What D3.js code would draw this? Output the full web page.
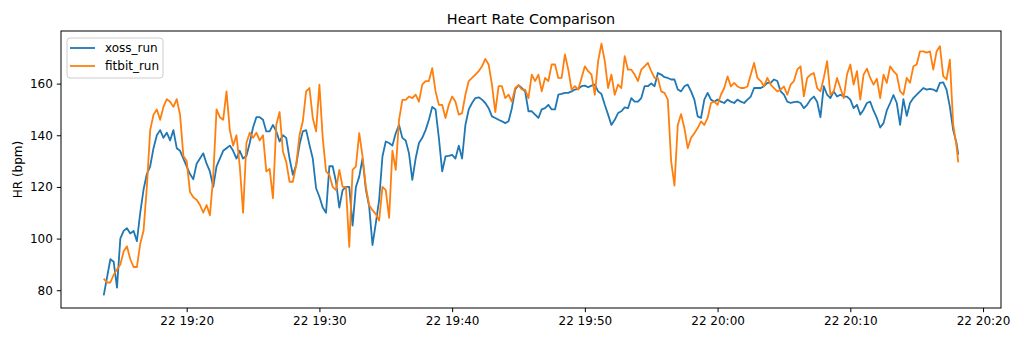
<!DOCTYPE html>
<html lang="en">
<head>
<meta charset="UTF-8">
<title>Heart Rate Comparison</title>
<script src="https://d3js.org/d3.v7.min.js"></script>
<style>
  body { margin: 0; background: #fff; }
  text { font-family: "DejaVu Sans", sans-serif; fill: #000; }
</style>
</head>
<body>
<div id="chart"></div>

<script>
// Recording day and sample times (one row per minute)
const day = "2021-08-22";
const times = [
  "19:13:45",
  "19:14:00","19:14:15","19:14:30","19:14:45",
  "19:15:00","19:15:15","19:15:30","19:15:45",
  "19:16:00","19:16:15","19:16:30","19:16:45",
  "19:17:00","19:17:15","19:17:30","19:17:45",
  "19:18:00","19:18:15","19:18:30","19:18:45",
  "19:19:00","19:19:15","19:19:30","19:19:45",
  "19:20:00","19:20:15","19:20:30","19:20:45",
  "19:21:00","19:21:15","19:21:30","19:21:45",
  "19:22:00","19:22:15","19:22:30","19:22:45",
  "19:23:00","19:23:15","19:23:30","19:23:45",
  "19:24:00","19:24:15","19:24:30","19:24:45",
  "19:25:00","19:25:15","19:25:30","19:25:45",
  "19:26:00","19:26:15","19:26:30","19:26:45",
  "19:27:00","19:27:15","19:27:30","19:27:45",
  "19:28:00","19:28:15","19:28:30","19:28:45",
  "19:29:00","19:29:15","19:29:30","19:29:45",
  "19:30:00","19:30:15","19:30:30","19:30:45",
  "19:31:00","19:31:15","19:31:30","19:31:45",
  "19:32:00","19:32:15","19:32:30","19:32:45",
  "19:33:00","19:33:15","19:33:30","19:33:45",
  "19:34:00","19:34:15","19:34:30","19:34:45",
  "19:35:00","19:35:15","19:35:30","19:35:45",
  "19:36:00","19:36:15","19:36:30","19:36:45",
  "19:37:00","19:37:15","19:37:30","19:37:45",
  "19:38:00","19:38:15","19:38:30","19:38:45",
  "19:39:00","19:39:15","19:39:30","19:39:45",
  "19:40:00","19:40:15","19:40:30","19:40:45",
  "19:41:00","19:41:15","19:41:30","19:41:45",
  "19:42:00","19:42:15","19:42:30","19:42:45",
  "19:43:00","19:43:15","19:43:30","19:43:45",
  "19:44:00","19:44:15","19:44:30","19:44:45",
  "19:45:00","19:45:15","19:45:30","19:45:45",
  "19:46:00","19:46:15","19:46:30","19:46:45",
  "19:47:00","19:47:15","19:47:30","19:47:45",
  "19:48:00","19:48:15","19:48:30","19:48:45",
  "19:49:00","19:49:15","19:49:30","19:49:45",
  "19:50:00","19:50:15","19:50:30","19:50:45",
  "19:51:00","19:51:15","19:51:30","19:51:45",
  "19:52:00","19:52:15","19:52:30","19:52:45",
  "19:53:00","19:53:15","19:53:30","19:53:45",
  "19:54:00","19:54:15","19:54:30","19:54:45",
  "19:55:00","19:55:15","19:55:30","19:55:45",
  "19:56:00","19:56:15","19:56:30","19:56:45",
  "19:57:00","19:57:15","19:57:30","19:57:45",
  "19:58:00","19:58:15","19:58:30","19:58:45",
  "19:59:00","19:59:15","19:59:30","19:59:45",
  "20:00:00","20:00:15","20:00:30","20:00:45",
  "20:01:00","20:01:15","20:01:30","20:01:45",
  "20:02:00","20:02:15","20:02:30","20:02:45",
  "20:03:00","20:03:15","20:03:30","20:03:45",
  "20:04:00","20:04:15","20:04:30","20:04:45",
  "20:05:00","20:05:15","20:05:30","20:05:45",
  "20:06:00","20:06:15","20:06:30","20:06:45",
  "20:07:00","20:07:15","20:07:30","20:07:45",
  "20:08:00","20:08:15","20:08:30","20:08:45",
  "20:09:00","20:09:15","20:09:30","20:09:45",
  "20:10:00","20:10:15","20:10:30","20:10:45",
  "20:11:00","20:11:15","20:11:30","20:11:45",
  "20:12:00","20:12:15","20:12:30","20:12:45",
  "20:13:00","20:13:15","20:13:30","20:13:45",
  "20:14:00","20:14:15","20:14:30","20:14:45",
  "20:15:00","20:15:15","20:15:30","20:15:45",
  "20:16:00","20:16:15","20:16:30","20:16:45",
  "20:17:00","20:17:15","20:17:30","20:17:45",
  "20:18:00","20:18:08"
];

// xoss_run heart rate (bpm)
const xoss = [
  78,
  85, 92, 91, 81,
  100, 103, 104, 102,
  103, 99, 110, 119,
  125, 128, 135, 140,
  142, 139, 141, 138,
  142, 135, 134, 131,
  128, 125, 123, 129,
  131, 133, 129, 126,
  120, 128, 131, 134,
  135, 136, 134, 131,
  134, 131, 132, 137,
  143, 147, 147, 146,
  141.5, 141.5, 144, 141.5,
  137.6, 140, 139, 131,
  124.7, 128.5, 136.3, 141.5,
  142, 136.3, 131, 119.5,
  116.2, 112, 110, 128,
  128, 122, 112, 118.8,
  120, 120, 105, 120,
  124, 131, 119, 112.4,
  97.5, 106, 115, 131.8,
  137.6, 137, 136, 140.8,
  144, 139, 138, 133,
  122.7, 131, 137, 139,
  142, 146, 151, 150,
  139, 126, 131.8, 132,
  132.4, 131, 136, 131,
  144, 150, 152.5, 154.4,
  154.7, 153.8, 152.5, 150.5,
  147.3, 146.7, 146, 145.4,
  144.7, 145.4, 150.5, 157.7,
  159.4, 158.3, 157, 149.3,
  149.3, 148, 146.7, 150,
  150.5, 151.8, 150, 150,
  155.7, 156, 156.4, 156.4,
  157, 157.7, 158, 159,
  159.2, 158.6, 159.2, 159.6,
  157, 156, 151.8, 148,
  144, 146, 148.6, 149.3,
  150.8, 150.5, 154.4, 153,
  153, 154.4, 159, 159,
  160.1, 159, 164.1, 163.5,
  162.5, 162.2, 161.6, 161.6,
  157.7, 157, 159, 159.6,
  157, 153.8, 147.3, 146.7,
  153.8, 156.4, 153.8, 153,
  153.8, 153, 152.5, 153.8,
  153, 152.5, 153.8, 153,
  152.5, 153.8, 155, 158.3,
  158.3, 158.3, 159, 160.3,
  160.3, 161.6, 161, 157,
  155.7, 153, 152.5, 152.8,
  153, 152.5, 150.5, 151.8,
  153.8, 155, 153, 147,
  159, 155.7, 154.4, 157,
  155, 155.7, 155, 155,
  153.8, 150.5, 151.8, 148,
  149.9, 152.5, 153, 149.5,
  146.7, 143, 144.7, 149.6,
  152.5, 155.6, 152.5, 144,
  154, 147.5, 152.5, 154.4,
  155.7, 157, 158.3, 157.7,
  158, 157.7, 157, 160.3,
  160.5, 157.7, 151, 142,
  137, 132.5
];

// fitbit_run heart rate (bpm)
const fitbit = [
  84.5,
  83, 83, 86, 88,
  90, 95, 97, 92,
  89, 89, 98, 103,
  120, 142, 148, 150,
  146, 151, 154, 153,
  151, 154, 148, 132,
  130, 118, 116, 115,
  113, 110, 113, 109,
  124, 150, 147, 146,
  157, 142, 136, 140,
  128, 110, 137, 141,
  139, 141, 138, 140,
  126, 127, 115.6, 144,
  149, 133.7, 129.7, 122,
  122, 128.5, 140, 145.4,
  157, 158.3, 146.7, 141.5,
  159.6, 139, 126, 124.7,
  120, 118.8, 126.6, 120,
  120, 96.8, 126.6, 128,
  140.8, 131.8, 120, 112.9,
  111, 109.5, 107, 120,
  118.8, 108, 134, 126.6,
  146, 153.7, 153.7, 155,
  154.4, 155.7, 153, 159.6,
  161, 161, 166, 157,
  151.8, 151.8, 146.7, 151.8,
  155, 153, 148, 148.6,
  155.7, 161, 162.2, 163.5,
  164.8, 166.7, 169.6, 167.4,
  159.6, 149, 159, 159,
  154.4, 155.7, 153, 158.3,
  159.4, 157.7, 157.7, 154.4,
  163.5, 161, 163.5, 157,
  162.2, 161, 167.4, 167.4,
  162.2, 162.2, 171.3, 165.4,
  157.7, 159, 157.7, 162.2,
  166.7, 164.8, 163.5, 155.7,
  168.7, 175.5, 168.7, 158.3,
  163.5, 155.7, 159.6, 158.3,
  170.6, 165.4, 165.4, 163.5,
  161, 165.4, 166.7, 168,
  164.8, 162.2, 162.2, 157,
  156.4, 153.8, 130, 120.5,
  144, 148.2, 142.8, 135,
  139, 140.8, 142.8, 145.4,
  144, 146.7, 152.5, 153,
  151.8, 155.7, 158.3, 162.8,
  158.9, 160.3, 158.9, 158.3,
  158.3, 158.9, 163.5, 168,
  162.2, 161, 159, 162.2,
  159.6, 158.3, 157, 157.7,
  158.9, 155.7, 159.6, 161,
  165.4, 166.7, 155.1, 162.2,
  163.5, 164.1, 158.3, 157,
  162.2, 168.7, 155.7, 157,
  162.2, 158.3, 154.4, 163.5,
  167.4, 159.6, 164.8, 153.8,
  163.5, 165.8, 162.2, 159.6,
  161.9, 154.4, 163.5, 160.3,
  166.7, 164.8, 163.5, 157,
  155.7, 162.2, 160.3, 166.7,
  167.4, 172.5, 172.5, 172,
  172.5, 165.4, 172.5, 174.5,
  162.9, 161.6, 169.3, 144.2,
  135.8, 129.5
];

const seriesNames = ["xoss_run", "fitbit_run"];
const seriesColors = ["#1f77b4", "#ff7f0e"];
const xTickTimes = ["19:20:00", "19:30:00", "19:40:00", "19:50:00", "20:00:00", "20:10:00", "20:20:00"];
const yTicks = [80, 100, 120, 140, 160];

if (xoss.length !== times.length || fitbit.length !== times.length) {
  console.error("length mismatch", times.length, xoss.length, fitbit.length);
}

// Dimensions and margins
const W = 1024, H = 341;
const margin = { top: 31, right: 23, bottom: 33, left: 61 };
const width = W - margin.left - margin.right;
const height = H - margin.top - margin.bottom;

const parseTime = d3.timeParse("%Y-%m-%d %H:%M:%S");
const t = times.map(s => parseTime(day + " " + s));

const series = [xoss, fitbit].map((vals, i) => ({
  name: seriesNames[i],
  color: seriesColors[i],
  points: vals.map((v, j) => ({ t: t[j], v: v }))
}));

const svg = d3.select("#chart").append("svg")
  .attr("width", W)
  .attr("height", H);

const g = svg.append("g")
  .attr("transform", `translate(${margin.left},${margin.top})`);

// Scales with matplotlib-like 5% margins
const tExt = d3.extent(t);
const tPad = (tExt[1] - tExt[0]) * 0.05;
const xScale = d3.scaleTime()
  .domain([new Date(+tExt[0] - tPad), new Date(+tExt[1] + tPad)])
  .range([0, width]);

const allVals = xoss.concat(fitbit);
const vMin = d3.min(allVals), vMax = d3.max(allVals);
const vPad = (vMax - vMin) * 0.05;
const yScale = d3.scaleLinear()
  .domain([vMin - vPad, vMax + vPad])
  .range([height, 0]);

// Lines
const line = d3.line()
  .x(d => xScale(d.t))
  .y(d => yScale(d.v));

g.selectAll("path.series")
  .data(series)
  .enter().append("path")
  .attr("class", "series")
  .attr("d", d => line(d.points))
  .attr("fill", "none")
  .attr("stroke", d => d.color)
  .attr("stroke-width", 1.8)
  .attr("stroke-linejoin", "round");

// x-axis
const xAxis = g.append("g")
  .attr("transform", `translate(0,${height})`)
  .call(d3.axisBottom(xScale)
    .tickValues(xTickTimes.map(s => parseTime(day + " " + s)))
    .tickFormat(d3.timeFormat("%d %H:%M"))
    .tickSize(4.2)
    .tickPadding(4));
xAxis.select(".domain").remove();
xAxis.selectAll("text").style("font-size", "12px").style("font-family", "DejaVu Sans");
xAxis.selectAll("line").attr("stroke", "#000").attr("stroke-width", 1);

// y-axis
const yAxis = g.append("g")
  .call(d3.axisLeft(yScale)
    .tickValues(yTicks)
    .tickSize(4.2)
    .tickPadding(4));
yAxis.select(".domain").remove();
yAxis.selectAll("text").style("font-size", "12px").style("font-family", "DejaVu Sans");
yAxis.selectAll("line").attr("stroke", "#000").attr("stroke-width", 1);

// Axes frame
g.append("rect")
  .attr("x", 0)
  .attr("y", 0)
  .attr("width", width)
  .attr("height", height)
  .attr("fill", "none")
  .attr("stroke", "#000")
  .attr("stroke-width", 1);

// Title
svg.append("text")
  .attr("x", margin.left + width / 2)
  .attr("y", margin.top - 7)
  .style("text-anchor", "middle")
  .style("font-size", "14.4px")
  .text("Heart Rate Comparison");

// y-axis label
svg.append("text")
  .attr("transform", "rotate(-90)")
  .attr("x", -(margin.top + height / 2))
  .attr("y", 22)
  .style("text-anchor", "middle")
  .style("font-size", "12px")
  .text("HR (bpm)");

// Legend
const legend = g.append("g").attr("transform", "translate(6,7)");
legend.append("rect")
  .attr("width", 96)
  .attr("height", 40)
  .attr("rx", 3)
  .attr("fill", "#fff")
  .attr("fill-opacity", 0.8)
  .attr("stroke", "#cccccc")
  .attr("stroke-width", 1);

const items = legend.selectAll("g.item")
  .data(series)
  .enter().append("g")
  .attr("class", "item")
  .attr("transform", (d, i) => `translate(0,${10 + i * 18})`);

items.append("line")
  .attr("x1", 3)
  .attr("x2", 28)
  .attr("stroke", d => d.color)
  .attr("stroke-width", 1.8);

items.append("text")
  .attr("x", 38)
  .attr("y", 4.3)
  .style("font-size", "12px")
  .text(d => d.name);
</script>
</body>
</html>
